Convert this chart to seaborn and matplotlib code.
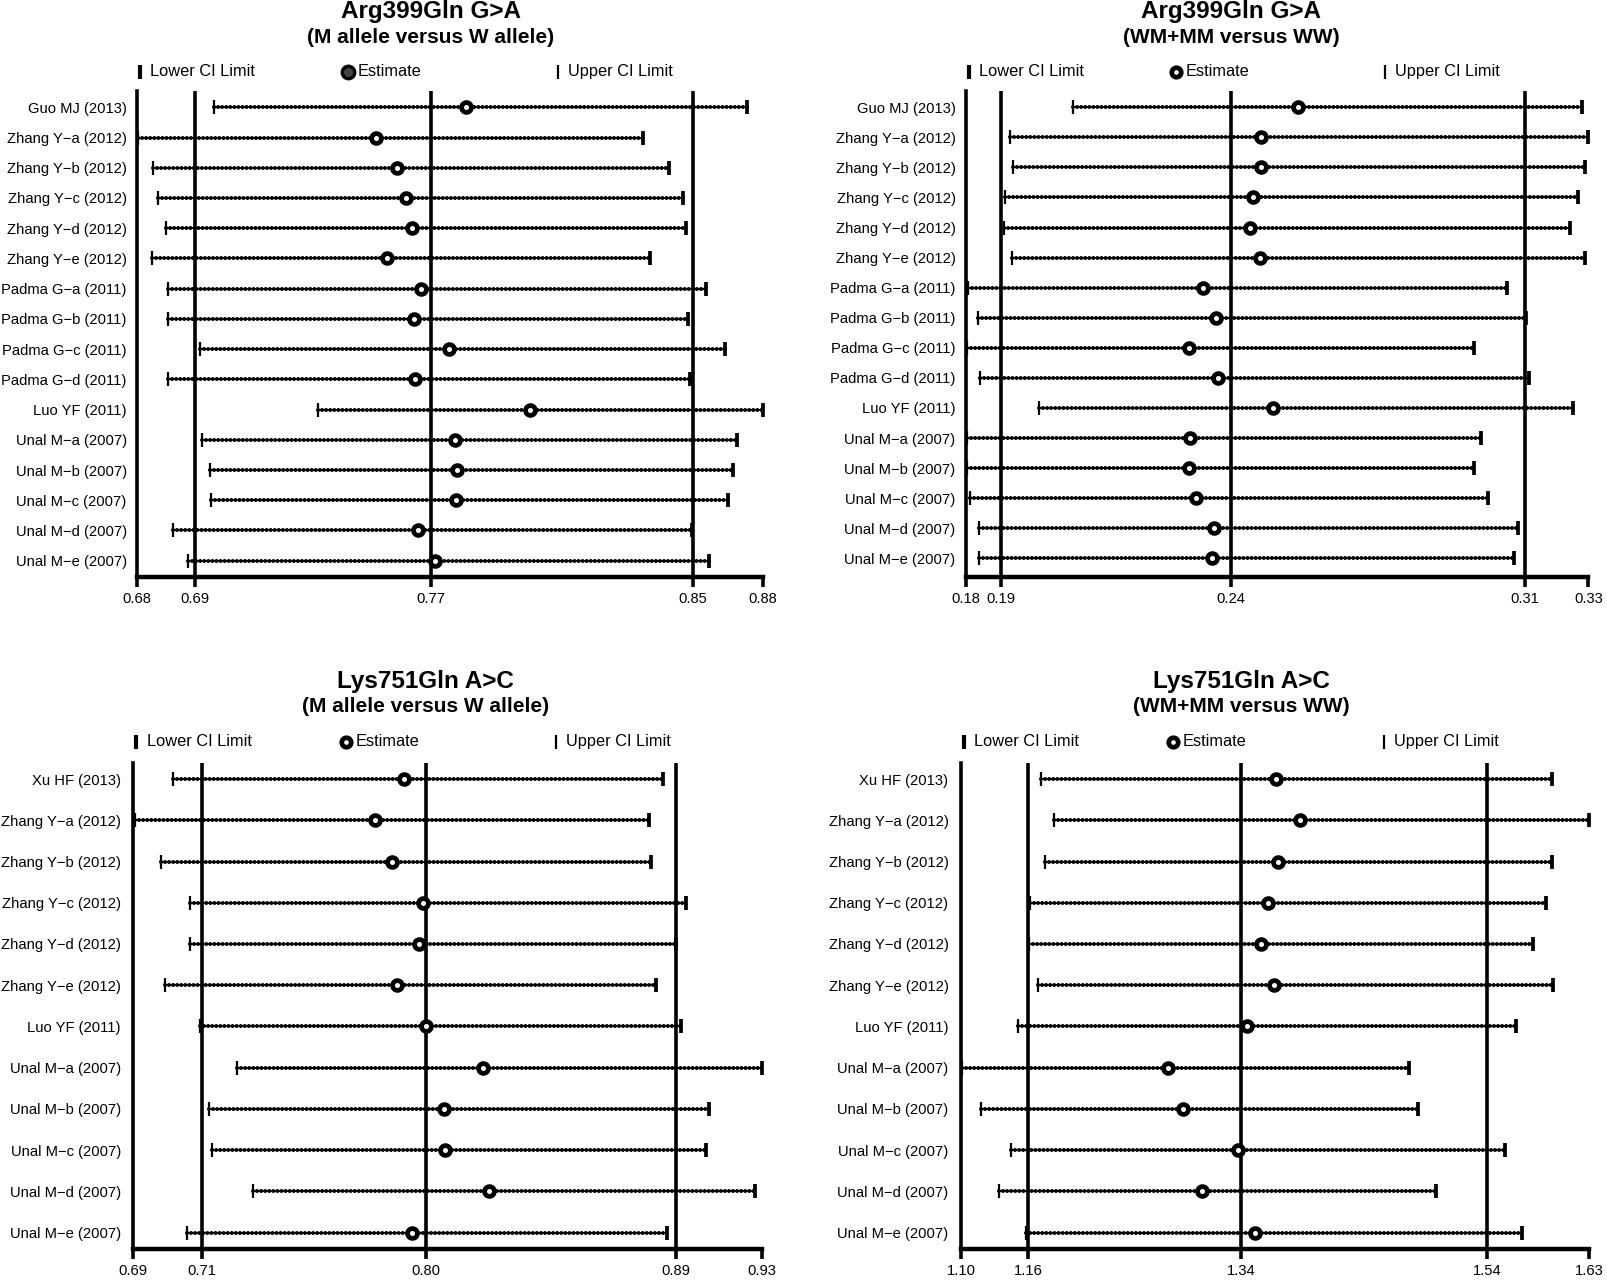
import numpy as np
import pandas as pd
import matplotlib
matplotlib.use("Agg")
import matplotlib.pyplot as plt
import matplotlib.transforms as mtransforms
import seaborn as sns

# study labels
arg_studies = ["Guo MJ (2013)", "Zhang Y\u2212a (2012)", "Zhang Y\u2212b (2012)", "Zhang Y\u2212c (2012)",
               "Zhang Y\u2212d (2012)", "Zhang Y\u2212e (2012)", "Padma G\u2212a (2011)", "Padma G\u2212b (2011)",
               "Padma G\u2212c (2011)", "Padma G\u2212d (2011)", "Luo YF (2011)", "Unal M\u2212a (2007)",
               "Unal M\u2212b (2007)", "Unal M\u2212c (2007)", "Unal M\u2212d (2007)", "Unal M\u2212e (2007)"]
lys_studies = ["Xu HF (2013)", "Zhang Y\u2212a (2012)", "Zhang Y\u2212b (2012)", "Zhang Y\u2212c (2012)",
               "Zhang Y\u2212d (2012)", "Zhang Y\u2212e (2012)", "Luo YF (2011)", "Unal M\u2212a (2007)",
               "Unal M\u2212b (2007)", "Unal M\u2212c (2007)", "Unal M\u2212d (2007)", "Unal M\u2212e (2007)"]

# Arg399Gln, M allele vs W allele
arg_allele_lower = [0.7048, 0.6805, 0.6853, 0.6869, 0.6894, 0.6848, 0.6900, 0.6900,
                    0.7002, 0.6900, 0.7379, 0.7008, 0.7035, 0.7036, 0.6915, 0.6963]
arg_allele_est = [0.7853, 0.7565, 0.7631, 0.7660, 0.7680, 0.7601, 0.7709, 0.7686,
                  0.7798, 0.7689, 0.8056, 0.7817, 0.7824, 0.7820, 0.7698, 0.7753]
arg_allele_upper = [0.8751, 0.8417, 0.8500, 0.8546, 0.8554, 0.8440, 0.8620, 0.8561,
                    0.8679, 0.8567, 0.8800, 0.8718, 0.8705, 0.8690, 0.8573, 0.8629]
arg_allele_pooled = [0.6986, 0.7739, 0.8578]
arg_allele_range = [0.68, 0.88]
arg_allele_ticks = ["0.68", "0.69", "0.77", "0.85", "0.88"]

# Arg399Gln, WM+MM vs WW
arg_dom_lower = [0.2060, 0.1907, 0.1914, 0.1895, 0.1892, 0.1911, 0.1807, 0.1830,
                 0.1803, 0.1835, 0.1978, 0.1803, 0.1803, 0.1811, 0.1833, 0.1833]
arg_dom_est = [0.2602, 0.2512, 0.2512, 0.2493, 0.2484, 0.2509, 0.2373, 0.2403,
               0.2338, 0.2407, 0.2541, 0.2341, 0.2338, 0.2354, 0.2398, 0.2394]
arg_dom_upper = [0.3286, 0.3300, 0.3292, 0.3275, 0.3257, 0.3291, 0.3104, 0.3150,
                 0.3025, 0.3156, 0.3262, 0.3042, 0.3025, 0.3059, 0.3131, 0.3122]
arg_dom_pooled = [0.1885, 0.2439, 0.3148]
arg_dom_range = [0.18, 0.33]
arg_dom_ticks = ["0.18", "0.19", "0.24", "0.31", "0.33"]

# Lys751Gln, M allele vs W allele
lys_allele_lower = [0.7052, 0.6905, 0.7005, 0.7115, 0.7115, 0.7021, 0.7154, 0.7295,
                    0.7189, 0.7201, 0.7358, 0.7104]
lys_allele_est = [0.7933, 0.7823, 0.7886, 0.8007, 0.7991, 0.7906, 0.8019, 0.8234,
                  0.8085, 0.8090, 0.8258, 0.7965]
lys_allele_upper = [0.8923, 0.8868, 0.8876, 0.9009, 0.8970, 0.8895, 0.8989, 0.9299,
                    0.9099, 0.9087, 0.9273, 0.8936]
lys_allele_pooled = [0.7163, 0.8016, 0.8972]
lys_allele_range = [0.69, 0.93]
lys_allele_ticks = ["0.69", "0.71", "0.80", "0.89", "0.93"]

# Lys751Gln, WM+MM vs WW
lys_dom_lower = [1.1679, 1.1782, 1.1713, 1.1583, 1.1575, 1.1652, 1.1479, 1.1005,
                 1.1168, 1.1419, 1.1321, 1.1549]
lys_dom_est = [1.3659, 1.3858, 1.3677, 1.3590, 1.3530, 1.3642, 1.3417, 1.2751,
               1.2873, 1.3339, 1.3031, 1.3481]
lys_dom_upper = [1.5987, 1.6298, 1.5987, 1.5935, 1.5831, 1.5995, 1.5684, 1.4784,
                 1.4854, 1.5589, 1.5006, 1.5737]
lys_dom_pooled = [1.1565, 1.3363, 1.5442]
lys_dom_range = [1.10, 1.63]
lys_dom_ticks = ["1.10", "1.16", "1.34", "1.54", "1.63"]

sns.set_theme(style="white")
plt.rcParams['font.family'] = ['Liberation Sans', 'DejaVu Sans']
plt.rcParams['text.color'] = 'black'
plt.rcParams['axes.labelcolor'] = 'black'
plt.rcParams['xtick.color'] = 'black'
plt.rcParams['ytick.color'] = 'black'

fig = plt.figure(figsize=(16.07, 12.82), dpi=100)


def forest(ax, studies, lower, est, upper, pooled, xrange, ticks, title, subtitle,
           ylim, title_y, sub_y, key_y, label_pad, filled_key=False):
    df = pd.DataFrame({"study": studies, "lower": lower, "est": est, "upper": upper})
    df["row"] = np.arange(len(df))

    for v in pooled:
        ax.axvline(v, color="black", lw=2.6, zorder=1)

    ax.hlines(df["row"], df["lower"], df["upper"], color="black", lw=1.1, zorder=2)
    beads = ax.hlines(df["row"], df["lower"], df["upper"], color="black", lw=2.9,
                      linestyles=[(0, (0.01, 1.0))], zorder=2)
    beads.set_capstyle("round")
    ax.scatter(df["lower"], df["row"], marker="|", s=110, linewidths=1.6,
               color="black", zorder=3, clip_on=False)
    ax.scatter(df["upper"], df["row"], marker="|", s=95, linewidths=2.7,
               color="black", zorder=3, clip_on=False)
    sns.scatterplot(data=df, x="est", y="row", ax=ax, marker="o", s=50,
                    color="black", linewidth=3.4, zorder=4, legend=False, clip_on=False)
    pts = ax.collections[-1]
    pts.set_facecolor("white")
    pts.set_edgecolor("black")

    ax.set_xlim(xrange)
    ax.set_ylim(ylim)
    ax.set_xlabel("")
    ax.set_ylabel("")
    ax.set_xticks([xrange[0]] + pooled + [xrange[1]], labels=ticks)
    ax.set_yticks(df["row"], labels=df["study"])
    ax.tick_params(axis="x", direction="out", length=7, width=2.6, labelsize=10.6,
                   pad=4, bottom=True)
    ax.tick_params(axis="y", length=0, labelsize=10.6, pad=label_pad)
    sns.despine(ax=ax)
    ax.spines["left"].set_linewidth(2.6)
    ax.spines["bottom"].set_linewidth(3.2)
    for s in ("left", "bottom"):
        ax.spines[s].set_color("black")

    # titles centred on the pooled estimate
    td = mtransforms.blended_transform_factory(ax.transData, fig.transFigure)
    ax.text(pooled[1], title_y, title, transform=td, ha="center", va="baseline",
            fontsize=17.5, fontweight="bold")
    ax.text(pooled[1], sub_y, subtitle, transform=td, ha="center", va="baseline",
            fontsize=15, fontweight="bold")

    # key row
    ta = mtransforms.blended_transform_factory(ax.transAxes, fig.transFigure)
    ax.plot([0.005], [key_y], marker="|", ms=9.5, mew=3.0, color="black",
            transform=ta, clip_on=False)
    ax.text(0.021, key_y, "Lower CI Limit", transform=ta, va="center", ha="left", fontsize=11.8)
    if filled_key:
        ax.plot([0.338], [key_y], marker="o", ms=9, mew=2.4, mfc="#444444", mec="black",
                transform=ta, clip_on=False)
    else:
        ax.plot([0.338], [key_y], marker="o", ms=6.8, mew=3.4, mfc="white", mec="black",
                transform=ta, clip_on=False)
    ax.text(0.353, key_y, "Estimate", transform=ta, va="center", ha="left", fontsize=11.8)
    ax.plot([0.673], [key_y], marker="|", ms=9.5, mew=1.6, color="black",
            transform=ta, clip_on=False)
    ax.text(0.689, key_y, "Upper CI Limit", transform=ta, va="center", ha="left", fontsize=11.8)


ax1 = fig.add_axes([0.08507, 0.55016, 0.38955, 0.37886])
forest(ax1, arg_studies, arg_allele_lower, arg_allele_est, arg_allele_upper,
       arg_allele_pooled, arg_allele_range, arg_allele_ticks,
       "Arg399Gln G>A", "(M allele versus W allele)", (15.53, -0.54),
       0.98557, 0.96622, 0.94384, 7.2, filled_key=True)

ax2 = fig.add_axes([0.60081, 0.55016, 0.38756, 0.37886])
forest(ax2, arg_studies, arg_dom_lower, arg_dom_est, arg_dom_upper,
       arg_dom_pooled, arg_dom_range, arg_dom_ticks,
       "Arg399Gln G>A", "(WM+MM versus WW)", (15.61, -0.54),
       0.98557, 0.96622, 0.94384, 7.2)

ax3 = fig.add_axes([0.08295, 0.02574, 0.39122, 0.3791])
forest(ax3, lys_studies, lys_allele_lower, lys_allele_est, lys_allele_upper,
       lys_allele_pooled, lys_allele_range, lys_allele_ticks,
       "Lys751Gln A>C", "(M allele versus W allele)", (11.40, -0.39),
       0.46334, 0.44423, 0.42122, 9.0)

ax4 = fig.add_axes([0.59800, 0.02574, 0.39079, 0.3791])
forest(ax4, lys_studies, lys_dom_lower, lys_dom_est, lys_dom_upper,
       lys_dom_pooled, lys_dom_range, lys_dom_ticks,
       "Lys751Gln A>C", "(WM+MM versus WW)", (11.40, -0.39),
       0.46334, 0.44423, 0.42122, 9.0)

fig.savefig("out.png", dpi=100)
